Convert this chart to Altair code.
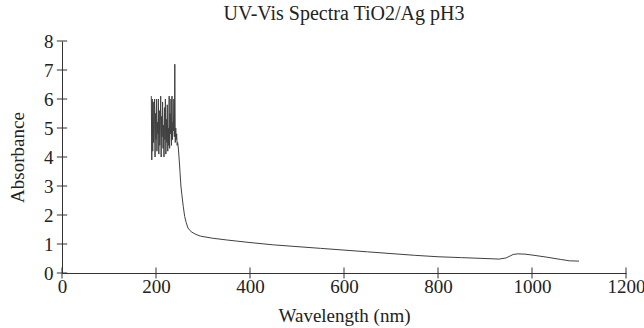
import altair as alt
import pandas as pd

wavelength = [190, 191, 192, 193, 194, 195, 196, 197, 198, 199,
              200, 201, 202, 203, 204, 205, 206, 207, 208, 209,
              210, 211, 212, 213, 214, 215, 216, 217, 218, 219,
              220, 221, 222, 223, 224, 225, 226, 227, 228, 229,
              230, 231, 232, 233, 234, 235, 236, 237, 238, 239,
              240, 241, 242, 243, 244, 245, 246, 247, 249, 251,
              253, 255, 258, 261, 264, 268, 275, 285, 295, 320,
              350, 372, 400, 450, 500, 550, 600, 650, 700, 750,
              800, 850, 900, 930, 945, 960, 970, 985, 1000, 1030,
              1060, 1080, 1100]
absorbance = [6.1, 3.9, 6.0, 4.2, 5.9, 4.5, 5.0, 6.0, 4.0, 5.5,
              4.6, 6.0, 4.2, 5.2, 4.8, 6.0, 4.1, 5.6, 4.4, 5.0,
              6.1, 4.0, 5.4, 4.7, 5.9, 4.3, 5.1, 4.0, 5.7, 4.6,
              6.0, 4.1, 5.3, 4.5, 5.8, 4.2, 5.0, 4.4, 6.1, 4.3,
              5.5, 4.8, 6.0, 4.4, 6.1, 4.6, 5.2, 4.9, 6.0, 4.7,
              7.2, 4.5, 5.0, 4.6, 4.8, 4.4, 4.5, 4.4, 4.0, 3.5,
              3.0, 2.7, 2.3, 1.95, 1.75, 1.55, 1.42, 1.33, 1.27, 1.2,
              1.14, 1.1, 1.05, 0.97, 0.91, 0.85, 0.79, 0.73, 0.67, 0.61,
              0.56, 0.53, 0.5, 0.48, 0.52, 0.64, 0.66, 0.65, 0.62, 0.55,
              0.47, 0.42, 0.41]

x_ticks = [0, 200, 400, 600, 800, 1000, 1200]
y_ticks = [0, 1, 2, 3, 4, 5, 6, 7, 8]

df = pd.DataFrame({"wl": wavelength, "abs": absorbance})
xt = pd.DataFrame({"t": x_ticks, "lo": -0.19, "hi": 0.19})
yt = pd.DataFrame({"t": y_ticks, "lo": -11, "hi": 11})

FONT = "Liberation Serif"
xscale = alt.Scale(domain=[0, 1200], nice=False)
yscale = alt.Scale(domain=[0, 8], nice=False)

xaxis = alt.Axis(title="Wavelength (nm)", values=x_ticks, ticks=False,
                 grid=False, labelPadding=4, titlePadding=10, format="d",
                 domainColor="#333333", labelFlush=False, labelOverlap=False)
yaxis = alt.Axis(title="Absorbance", values=y_ticks, ticks=False,
                 grid=False, labelPadding=9, titlePadding=16, format="d",
                 domainColor="#333333", labelFlush=False, labelOverlap=False)

line = alt.Chart(df).mark_line(color="#404040", strokeWidth=1, clip=False).encode(
    x=alt.X("wl:Q", scale=xscale, axis=xaxis),
    y=alt.Y("abs:Q", scale=yscale, axis=yaxis),
)

xtick = alt.Chart(xt).mark_rule(color="#333333", strokeWidth=1).encode(
    x=alt.X("t:Q", scale=xscale, axis=xaxis),
    y=alt.Y("lo:Q", scale=yscale, axis=yaxis),
    y2="hi:Q",
)
ytick = alt.Chart(yt).mark_rule(color="#333333", strokeWidth=1).encode(
    y=alt.Y("t:Q", scale=yscale, axis=yaxis),
    x=alt.X("lo:Q", scale=xscale, axis=xaxis),
    x2="hi:Q",
)

chart = alt.layer(line, xtick, ytick).properties(
    width=564, height=232,
    title=alt.TitleParams("UV-Vis Spectra TiO2/Ag pH3", font=FONT, fontSize=20,
                          fontWeight="normal", color="#222222", offset=8,
                          anchor="middle"),
    autosize=alt.AutoSizeParams(type="none"),
    padding={"left": 62, "top": 41, "right": 18, "bottom": 55},
).configure_axis(
    labelFont=FONT, titleFont=FONT, labelFontSize=19, titleFontSize=19,
    titleFontWeight="normal", labelColor="#222222", titleColor="#222222",
).configure_view(stroke=None)

chart.save("out.html", embed_options={"renderer": "svg", "actions": False})
